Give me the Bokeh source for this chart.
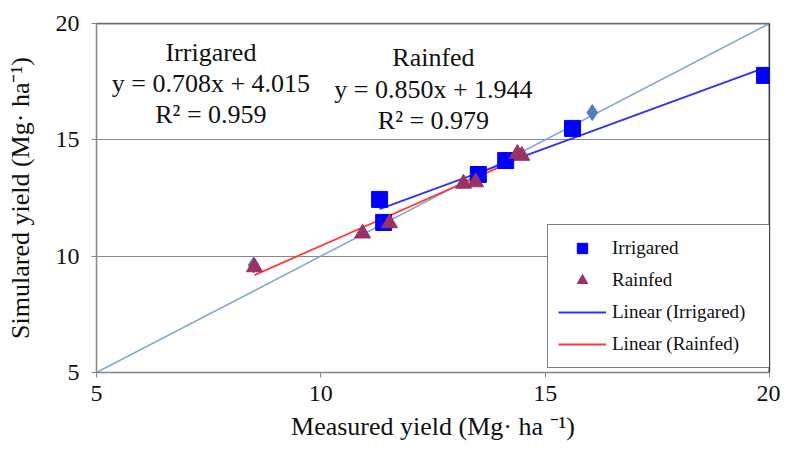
from bokeh.plotting import figure
from bokeh.models import Legend, LegendItem, Span, Label, FixedTicker, Range1d
from bokeh.embed import file_html
from bokeh.resources import INLINE

# data
irr_x = [11.31, 11.40, 13.51, 14.12, 15.61, 19.89]
irr_y = [12.44, 11.45, 13.51, 14.11, 15.49, 17.77]
rain_x = [8.52, 10.93, 11.53, 13.18, 13.45, 14.38, 14.48]
rain_y = [9.53, 10.98, 11.42, 13.12, 13.18, 14.40, 14.32]
dia_x = [8.50, 16.05]
dia_y = [9.62, 16.17]
one_x = [5, 20]
irr_a, irr_b = 0.708, 4.015
rain_a, rain_b = 0.850, 1.944
ticks = [5, 10, 15, 20]

FONT = "Liberation Serif"

p = figure(width=780, height=449, output_backend="svg", toolbar_location=None,
           x_range=Range1d(5, 20), y_range=Range1d(5, 20),
           min_border_left=96, min_border_right=11, min_border_top=23, min_border_bottom=77)
p.background_fill_color = "white"
p.outline_line_color = "#7f7f7f"
p.outline_line_width = 1.5

for ax in (p.xaxis[0], p.yaxis[0]):
    ax.ticker = FixedTicker(ticks=ticks)
    ax.axis_line_color = "#868686"
    ax.major_tick_line_color = "#868686"
    ax.major_tick_out = 5
    ax.major_tick_in = 0
    ax.minor_tick_line_color = None
    ax.major_label_text_font = FONT
    ax.major_label_text_font_size = "24px"
    ax.major_label_text_color = "#111111"
    ax.axis_label_text_font = FONT
    ax.axis_label_text_font_size = "26px"
    ax.axis_label_text_font_style = "normal"
    ax.axis_label_text_color = "#111111"
p.xaxis.axis_label = "Measured yield (Mg· ha ⁻¹)"
p.yaxis.axis_label = "Simulared yield (Mg· ha⁻¹)"
p.xaxis.major_label_standoff = 8
p.xaxis.axis_label_standoff = 8
p.yaxis.major_label_standoff = 12
p.yaxis.axis_label_standoff = 18

p.xgrid.grid_line_color = None
p.ygrid.ticker = FixedTicker(ticks=ticks)
p.ygrid.grid_line_color = "#868686"
p.ygrid.grid_line_width = 1.2

p.add_layout(Span(location=20, dimension="height", line_color="black", line_width=1.5))
p.add_layout(Span(location=20, dimension="width", line_color="#555555", line_width=1.5))

# 1:1 line
p.line(one_x, one_x, line_color="#7fa6d0", line_width=1.5)

# fitted lines
ix = [min(irr_x), max(irr_x)]
rx = [min(rain_x), max(rain_x)]
l_irr = p.line(ix, [irr_a * v + irr_b for v in ix], line_color="#3333ee", line_width=1.8)
l_rain = p.line(rx, [rain_a * v + rain_b for v in rx], line_color="#ff3b3b", line_width=1.8)

# markers
p.scatter(dia_x, dia_y, marker="diamond", size=16, fill_color="#4f81bd", line_color="#4f81bd")
s_irr = p.scatter(irr_x, irr_y, marker="square", size=16, fill_color="#0000ff", line_color="#0000ff")
s_rain = p.scatter(rain_x, rain_y, marker="triangle", size=16, fill_color="#993366", line_color="#993366")

# annotations
ann = [
    (7.55, 18.75, "Irrigared"), (7.55, 17.40, "y = 0.708x + 4.015"), (7.55, 16.08, "R² = 0.959"),
    (12.51, 18.54, "Rainfed"), (12.51, 17.15, "y = 0.850x + 1.944"), (12.51, 15.85, "R² = 0.979"),
]
for x, y, t in ann:
    p.add_layout(Label(x=x, y=y, text=t, text_font=FONT, text_font_size="26px",
                       text_align="center", text_baseline="middle", text_color="#111111"))

legend = Legend(items=[
    LegendItem(label="Irrigared", renderers=[s_irr]),
    LegendItem(label="Rainfed", renderers=[s_rain]),
    LegendItem(label="Linear (Irrigared)", renderers=[l_irr]),
    LegendItem(label="Linear (Rainfed)", renderers=[l_rain]),
], location=(451, 4))
legend.border_line_color = "black"
legend.border_line_width = 1.5
legend.label_text_font = FONT
legend.label_text_font_size = "19px"
legend.label_text_color = "#111111"
legend.glyph_width = 48
legend.glyph_height = 26
legend.label_standoff = 6
legend.label_width = 150
legend.spacing = 6
legend.padding = 10
legend.margin = 0
legend.background_fill_alpha = 1.0
p.add_layout(legend)

open("out.html", "w").write(file_html(p, INLINE))
